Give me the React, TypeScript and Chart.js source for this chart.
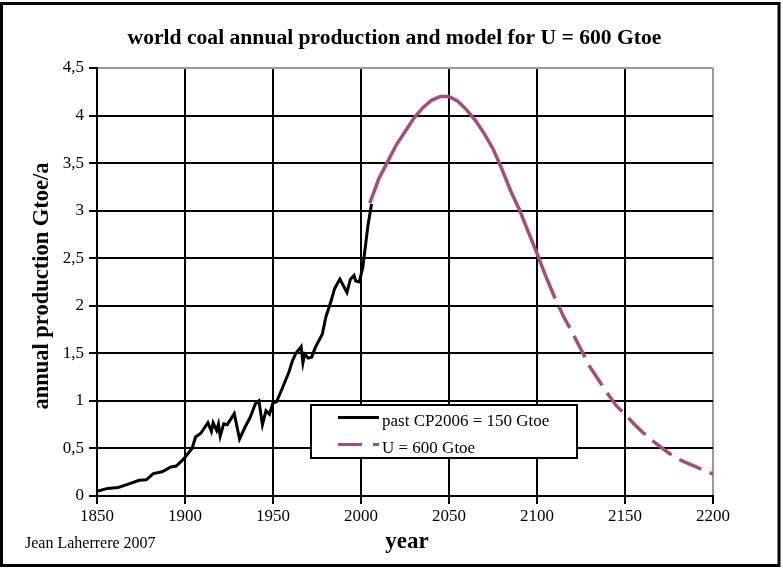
import React, { useEffect, useRef } from "react";
import { Chart, registerables } from "chart.js";

Chart.register(...registerables);

// ---- data ----
const histYears = [1850, 1856, 1862, 1867, 1874, 1878, 1882, 1887, 1892, 1895, 1899, 1904, 1906, 1909, 1913, 1915, 1916, 1918, 1919, 1920, 1922, 1924, 1928, 1931, 1934, 1937, 1940, 1942, 1944, 1946, 1948, 1950, 1952, 1955, 1959, 1961, 1963, 1965, 1966, 1967, 1968, 1970, 1972, 1974, 1978, 1980, 1983, 1985, 1988, 1990, 1992, 1994, 1996, 1997, 1999, 2001, 2002, 2004, 2006];
const histValues = [0.05, 0.08, 0.09, 0.12, 0.165, 0.17, 0.235, 0.255, 0.305, 0.315, 0.385, 0.5, 0.62, 0.66, 0.77, 0.68, 0.77, 0.69, 0.755, 0.63, 0.76, 0.75, 0.865, 0.6, 0.72, 0.825, 0.97, 1.0, 0.75, 0.895, 0.86, 0.98, 0.99, 1.12, 1.3, 1.42, 1.5, 1.545, 1.57, 1.4, 1.49, 1.45, 1.46, 1.56, 1.7, 1.88, 2.05, 2.18, 2.28, 2.21, 2.14, 2.28, 2.32, 2.26, 2.25, 2.4, 2.55, 2.85, 3.07];

const modelYears = [2005, 2010, 2015, 2020, 2025, 2030, 2035, 2040, 2045, 2050, 2055, 2060, 2065, 2070, 2075, 2080, 2085, 2090, 2095, 2100, 2105, 2110, 2115, 2120, 2125, 2130, 2135, 2140, 2145, 2150, 2155, 2160, 2165, 2170, 2175, 2180, 2200];
const modelValues = [3.08, 3.33, 3.51, 3.69, 3.83, 3.97, 4.08, 4.16, 4.2, 4.2, 4.15, 4.06, 3.95, 3.81, 3.65, 3.44, 3.21, 3.01, 2.78, 2.55, 2.31, 2.09, 1.89, 1.72, 1.54, 1.36, 1.22, 1.08, 0.95, 0.86, 0.76, 0.67, 0.59, 0.52, 0.45, 0.39, 0.23];

const xTicks = [1850, 1900, 1950, 2000, 2050, 2100, 2150, 2200];
const yTicks = [0, 0.5, 1, 1.5, 2, 2.5, 3, 3.5, 4, 4.5];

const chartTitle = "world coal annual production and model for U = 600 Gtoe";
const yTitle = "annual production Gtoe/a";
const xTitle = "year";
const author = "Jean Laherrere 2007";
const histLabel = "past CP2006 = 150 Gtoe";
const modelLabel = "U = 600 Gtoe";

const SERIF = '"Liberation Serif", "Times New Roman", serif';
const PINK = "#a24f7b";

const decor = {
  id: "decor",
  beforeDraw(chart: any) {
    const c = chart.ctx;
    c.save();
    c.fillStyle = "#fff";
    c.fillRect(0, 0, chart.width, chart.height);
    c.restore();
  },
  afterDraw(chart: any) {
    const c = chart.ctx;
    c.save();
    // outer frame
    c.strokeStyle = "#000";
    c.lineWidth = 3;
    c.strokeRect(1.5, 3.5, 777.5, 562);

    // title
    c.fillStyle = "#000";
    c.font = `bold 21.6px ${SERIF}`;
    c.textAlign = "center";
    c.textBaseline = "alphabetic";
    c.fillText(chartTitle, 394.5, 43.5);

    // x title
    c.font = `bold 23px ${SERIF}`;
    c.fillText(xTitle, 407, 548);

    // author
    c.font = `16px ${SERIF}`;
    c.textAlign = "left";
    c.fillText(author, 25, 548);

    // y title
    c.save();
    c.translate(42, 286);
    c.rotate(-Math.PI / 2);
    c.font = `bold 22.5px ${SERIF}`;
    c.textAlign = "center";
    c.textBaseline = "middle";
    c.fillText(yTitle, 0, 0);
    c.restore();

    // legend
    c.fillStyle = "#fff";
    c.fillRect(310, 404, 267, 54);
    c.strokeStyle = "#000";
    c.lineWidth = 2;
    c.strokeRect(311, 405, 266, 53);
    c.lineCap = "butt";
    c.lineWidth = 3;
    c.beginPath();
    c.moveTo(338, 417.5);
    c.lineTo(379, 417.5);
    c.stroke();
    c.strokeStyle = PINK;
    c.beginPath();
    c.moveTo(338, 444.5);
    c.lineTo(362, 444.5);
    c.moveTo(373, 444.5);
    c.lineTo(379, 444.5);
    c.stroke();
    c.fillStyle = "#000";
    c.font = `17px ${SERIF}`;
    c.textAlign = "left";
    c.fillText(histLabel, 382, 426);
    c.fillText(modelLabel, 382, 453);
    c.restore();
  },
};

export default function App() {
  const ref = useRef<HTMLCanvasElement>(null);
  useEffect(() => {
    if (!ref.current) return;
    const chart = new Chart(ref.current, {
      type: "line",
      data: {
        datasets: [
          {
            label: histLabel,
            data: histYears.map((x, i) => ({ x, y: histValues[i] })),
            borderColor: "#000",
            borderWidth: 3,
            pointRadius: 0,
            tension: 0,
          },
          {
            label: modelLabel,
            data: modelYears.map((x, i) => ({ x, y: modelValues[i] })),
            borderColor: PINK,
            borderWidth: 3.5,
            pointRadius: 0,
            tension: 0,
            segment: {
              borderDash: (ctx: any) => (ctx.p0.parsed.x >= 2105 ? [24, 9] : []),
            },
          },
        ],
      },
      options: {
        responsive: false,
        animation: false,
        devicePixelRatio: 1,
        layout: { padding: { left: 0, top: 68, right: 70, bottom: 0 } },
        plugins: {
          legend: { display: false },
          title: { display: false },
          tooltip: { enabled: false },
        },
        scales: {
          x: {
            type: "linear",
            min: 1850,
            max: 2200,
            afterBuildTicks: (s: any) => {
              s.ticks = xTicks.map((v) => ({ value: v }));
            },
            afterFit: (s: any) => {
              s.height = 72;
            },
            grid: {
              color: (ctx: any) => (ctx.tick && ctx.tick.value === 2200 ? "#999" : "#000"),
              lineWidth: 2,
              tickLength: 8,
              tickColor: "#000",
              tickWidth: 2,
            },
            border: { color: "#000", width: 2 },
            ticks: {
              color: "#000",
              font: { family: SERIF, size: 17 },
              padding: 2,
              maxRotation: 0,
              autoSkip: false,
              callback: (v: any) => String(v),
            },
          },
          y: {
            type: "linear",
            min: 0,
            max: 4.5,
            afterBuildTicks: (s: any) => {
              s.ticks = yTicks.map((v) => ({ value: v }));
            },
            afterFit: (s: any) => {
              s.width = 97;
            },
            grid: {
              color: (ctx: any) => (ctx.tick && ctx.tick.value === 4.5 ? "#999" : "#000"),
              lineWidth: 2,
              tickLength: 8,
              tickColor: "#000",
              tickWidth: 2,
            },
            border: { color: "#000", width: 2 },
            ticks: {
              color: "#000",
              font: { family: SERIF, size: 17 },
              padding: 5,
              autoSkip: false,
              callback: (v: any) => String(v).replace(".", ","),
            },
          },
        },
      },
      plugins: [decor],
    });
    return () => chart.destroy();
  }, []);

  return (
    <div style={{ position: "absolute", left: 0, top: 0, width: 783, height: 568 }}>
      <canvas ref={ref} width={783} height={568} style={{ display: "block", width: 783, height: 568 }} />
    </div>
  );
}
